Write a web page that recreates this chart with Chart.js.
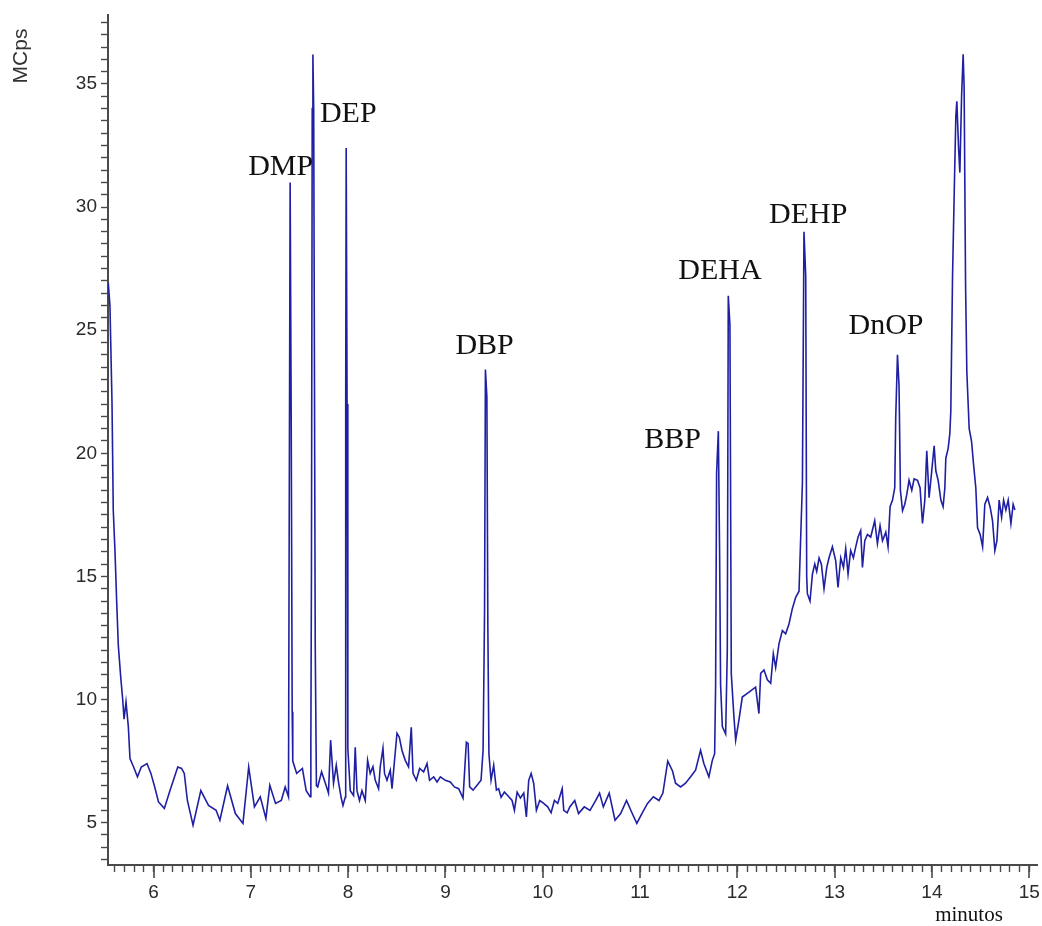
<!DOCTYPE html>
<html>
<head>
<meta charset="utf-8">
<title>Cromatograma</title>
<script src="https://cdn.jsdelivr.net/npm/chart.js@4.4.1/dist/chart.umd.min.js"></script>
<style>
  html, body { margin: 0; padding: 0; background: #fff; }
  #wrap { width: 1042px; height: 926px; }
</style>
</head>
<body>
<div id="wrap"><canvas id="chrom" width="1042" height="926"></canvas></div>
<script>
/* ===== data ===== */

// retention time, minutes
const times = [
  // solvent tail, DMP, DEP
  5.535, 5.552, 5.573, 5.586, 5.604, 5.621, 5.638, 5.663, 5.683, 5.697, 5.717, 5.741, 5.758,
  5.795, 5.835, 5.874, 5.933, 5.973, 6.012, 6.051, 6.111, 6.170, 6.249, 6.288, 6.316, 6.348,
  6.406, 6.486, 6.565, 6.643, 6.682, 6.761, 6.841, 6.919, 6.978, 7.037, 7.097, 7.155, 7.195,
  7.254, 7.313, 7.353, 7.387,
  7.394, 7.404, 7.415, 7.425, 7.431, 7.471, 7.530, 7.569, 7.609,
  7.617, 7.623, 7.631, 7.638, 7.646, 7.662, 7.674, 7.687, 7.727, 7.766, 7.798,
  // 7.8 - 10.3, DBP
  7.820, 7.850, 7.878, 7.901, 7.929, 7.947, 7.970, 7.975, 7.980, 7.989,
  7.997, 8.022, 8.056, 8.073, 8.091, 8.117, 8.142, 8.176, 8.200, 8.227,
  8.255, 8.279, 8.313, 8.330, 8.358, 8.374, 8.399, 8.433, 8.451, 8.474,
  8.502, 8.526, 8.553, 8.587, 8.621, 8.649, 8.667, 8.701, 8.735, 8.776,
  8.811, 8.837, 8.879, 8.914, 8.948, 8.999, 9.050, 9.092, 9.136, 9.181,
  9.215, 9.233, 9.249, 9.284, 9.325, 9.366, 9.387, 9.402, 9.411, 9.426,
  9.436, 9.447, 9.469, 9.496, 9.524, 9.547, 9.572, 9.606, 9.640, 9.685,
  9.709, 9.737, 9.771, 9.805, 9.832, 9.856, 9.881, 9.907, 9.935, 9.969,
  10.010, 10.051, 10.086, 10.120, 10.154, 10.200, 10.216, 10.251, 10.278,
  // 10.3 - 12.7, BBP, DEHA, DEHP
  10.329, 10.368, 10.427, 10.486, 10.545, 10.584, 10.623, 10.683, 10.743, 10.801,
  10.861, 10.920, 10.967, 11.019, 11.077, 11.137, 11.195, 11.235, 11.285, 11.334,
  11.365, 11.417, 11.468, 11.520, 11.571, 11.622, 11.656, 11.708, 11.743, 11.767,
  11.777, 11.787, 11.805, 11.818, 11.828, 11.846, 11.880, 11.897, 11.907, 11.924,
  11.938, 11.965, 11.983, 12.016, 12.051, 12.103, 12.154, 12.188, 12.222, 12.240,
  12.274, 12.309, 12.343, 12.370, 12.394, 12.428, 12.463, 12.497, 12.531, 12.566,
  12.600, 12.634, 12.669, 12.685, 12.703,
  // 12.7 - end, DnOP, column bleed peak
  12.713, 12.720, 12.747, 12.772, 12.796, 12.816, 12.840, 12.864, 12.891, 12.919,
  12.942, 12.977, 13.011, 13.035, 13.063, 13.091, 13.114, 13.138, 13.165, 13.193,
  13.217, 13.241, 13.268, 13.286, 13.310, 13.337, 13.371, 13.412, 13.440, 13.467,
  13.492, 13.526, 13.549, 13.570, 13.595, 13.618, 13.628, 13.646, 13.662, 13.676,
  13.698, 13.721, 13.742, 13.765, 13.793, 13.817, 13.852, 13.878, 13.903, 13.927,
  13.947, 13.971, 13.996, 14.023, 14.040, 14.064, 14.092, 14.115, 14.133, 14.143,
  14.167, 14.184, 14.194, 14.212, 14.228, 14.246, 14.256, 14.274, 14.287, 14.305,
  14.321, 14.331, 14.346, 14.359, 14.383, 14.407, 14.428, 14.451, 14.469, 14.496,
  14.521, 14.544, 14.572, 14.599, 14.623, 14.647, 14.668, 14.691, 14.716, 14.737,
  14.760, 14.784, 14.812, 14.835, 14.853
];

// signal, MCps
const signal = [
  26.9, 26.0, 22.1, 17.7, 16.0, 14.0, 12.2, 10.9, 10.0, 9.2, 9.9, 8.9, 7.6,
  7.26, 6.86, 7.26, 7.4, 7.0, 6.45, 5.84, 5.58, 6.32, 7.26, 7.2, 7.0, 5.9,
  4.9, 6.3, 5.7, 5.5, 5.1, 6.5, 5.37, 4.97, 7.26, 5.64, 6.05, 5.17, 6.52,
  5.78, 5.9, 6.45, 6.05,
  16.5, 31.0, 21.3, 9.5, 7.5, 7.0, 7.2, 6.3, 6.05,
  8.2, 15.2, 34.0, 36.2, 34.0, 12.2, 6.5, 6.45, 7.06, 6.6, 6.2,

  8.35, 6.6, 7.33, 6.65, 6.0, 5.7, 6.03, 22.0, 32.4, 22.0,
  8.0, 6.3, 6.1, 8.06, 6.3, 5.9, 6.3, 5.9, 7.53, 7.0,
  7.27, 6.72, 6.38, 7.27, 8.02, 7.0, 6.72, 7.13, 6.38, 7.4,
  8.63, 8.47, 7.94, 7.53, 7.27, 8.87, 7.0, 6.72, 7.2, 7.06,
  7.4, 6.72, 6.86, 6.65, 6.86, 6.72, 6.65, 6.45, 6.38, 6.0,
  8.27, 8.22, 6.45, 6.32, 6.52, 6.72, 7.94, 13.5, 23.4, 22.3,
  13.0, 7.8, 6.72, 7.33, 6.32, 6.38, 6.03, 6.24, 6.1, 5.9,
  5.5, 6.24, 6.0, 6.2, 5.23, 6.72, 7.0, 6.6, 5.5, 5.9,
  5.78, 5.64, 5.4, 5.9, 5.78, 6.38, 5.5, 5.4, 5.64,

  5.9, 5.37, 5.64, 5.5, 5.9, 6.2, 5.64, 6.2, 5.1, 5.37,
  5.9, 5.37, 4.97, 5.37, 5.78, 6.05, 5.9, 6.2, 7.5, 7.1,
  6.6, 6.45, 6.6, 6.86, 7.13, 7.94, 7.4, 6.86, 7.53, 7.8,
  10.6, 19.2, 20.9, 15.9, 10.6, 8.9, 8.6, 12.0, 26.4, 25.2,
  11.05, 9.3, 8.35, 9.15, 10.1, 10.25, 10.4, 10.5, 9.43, 11.06,
  11.2, 10.8, 10.66, 11.86, 11.3, 12.26, 12.8, 12.67, 13.07, 13.7,
  14.15, 14.4, 18.8, 29.0, 27.2,

  15.0, 14.3, 14.0, 15.1, 15.5, 15.2, 15.75, 15.5, 14.5, 15.36,
  15.75, 16.2, 15.64, 14.55, 15.75, 15.36, 16.13, 15.1, 16.05, 15.75,
  16.2, 16.6, 16.86, 15.36, 16.45, 16.7, 16.6, 17.26, 16.33, 17.06,
  16.45, 16.8, 16.2, 17.83, 18.1, 18.6, 21.45, 24.0, 22.75, 18.5,
  17.67, 17.93, 18.33, 18.9, 18.5, 18.96, 18.9, 18.6, 17.15, 18.1,
  20.1, 18.2, 19.2, 20.3, 19.29, 18.9, 18.1, 17.83, 18.6, 19.8,
  20.2, 20.8, 21.7, 27.2, 30.35, 33.7, 34.3, 32.4, 31.4, 34.5,
  36.2, 34.9, 26.8, 23.3, 21.0, 20.5, 19.55, 18.6, 16.97, 16.7,
  16.2, 17.93, 18.2, 17.8, 17.26, 16.05, 16.45, 18.1, 17.4, 18.1,
  17.7, 18.1, 17.15, 17.93, 17.7
];

// labelled peaks
const peakNames = ['DMP', 'DEP', 'DBP', 'BBP', 'DEHA', 'DEHP', 'DnOP'];
const peakTimes = [7.404, 7.638, 9.411, 11.805, 11.907, 12.685, 13.646];

// axis labels
const xTickLabels = ['6', '7', '8', '9', '10', '11', '12', '13', '14', '15'];
const yTickLabels = ['5', '10', '15', '20', '25', '30', '35'];
const xTitle = 'minutos';
const yTitle = 'MCps';

/* ===== layout / style ===== */
const X_MIN = 5.532, X_MAX = 15.08;
const Y_MIN = 3.28, Y_MAX = 37.8;
const LINE_COLOR = '#1f1fa3';
const AXIS_COLOR = '#4a4a4a';
const SANS = '"Liberation Sans", Arial, sans-serif';
const SERIF = '"Liberation Serif", "Times New Roman", serif';

// label offset from the peak apex: [dx to left edge, dy to baseline]
const labelOffsets = [[-42, -7], [7, 68], [-30, -16], [-74, 17], [-50, -17], [-35, -9], [-49, -21]];

// minor ticks: 0.1 min on x, 0.5 MCps on y
const xTickValues = [];
for (let k = 56; k <= 150; k++) xTickValues.push(k / 10);
const yTickValues = [];
for (let k = 7; k <= 75; k++) yTickValues.push(k / 2);

const isLabelled = (v, labels) => labels.some(l => Math.abs(Number(l) - v) < 1e-6);

function peakApex(t) {
    let best = -Infinity;
    times.forEach((tt, i) => {
        if (Math.abs(tt - t) < 0.015 && signal[i] > best) best = signal[i];
    });
    return best;
}

const annotatePlugin = {
    id: 'annotate',
    afterDraw(chart) {
        const { ctx, chartArea } = chart;
        const x = chart.scales.x, y = chart.scales.y;
        ctx.save();

        // longer ticks at whole minutes
        ctx.strokeStyle = AXIS_COLOR;
        ctx.lineWidth = 1.6;
        xTickLabels.forEach(l => {
            const px = Math.round(x.getPixelForValue(Number(l)));
            ctx.beginPath();
            ctx.moveTo(px, chartArea.bottom);
            ctx.lineTo(px, chartArea.bottom + 13);
            ctx.stroke();
        });

        // peak names
        ctx.fillStyle = '#111';
        ctx.font = '30px ' + SERIF;
        ctx.textAlign = 'left';
        ctx.textBaseline = 'alphabetic';
        peakNames.forEach((name, i) => {
            const px = x.getPixelForValue(peakTimes[i]);
            const py = y.getPixelForValue(peakApex(peakTimes[i]));
            ctx.fillText(name, px + labelOffsets[i][0], py + labelOffsets[i][1]);
        });

        // axis titles
        ctx.font = '21px ' + SERIF;
        ctx.textAlign = 'center';
        ctx.fillText(xTitle, 969, 921);

        ctx.font = '21px ' + SANS;
        ctx.fillStyle = '#333';
        ctx.translate(21, 56);
        ctx.rotate(-Math.PI / 2);
        ctx.textBaseline = 'middle';
        ctx.fillText(yTitle, 0, 0);

        ctx.restore();
    }
};

/* ===== chart ===== */
new Chart(document.getElementById('chrom'), {
    type: 'line',
    data: {
        datasets: [{
            data: times.map((t, i) => ({ x: t, y: signal[i] })),
            borderColor: LINE_COLOR,
            borderWidth: 1.6,
            pointRadius: 0,
            tension: 0,
            fill: false
        }]
    },
    options: {
        responsive: false,
        animation: false,
        devicePixelRatio: 1,
        layout: { padding: { top: 15, right: 5, left: 0, bottom: 0 } },
        plugins: {
            legend: { display: false },
            tooltip: { enabled: false }
        },
        scales: {
            x: {
                type: 'linear',
                min: X_MIN,
                max: X_MAX,
                afterBuildTicks: s => { s.ticks = xTickValues.map(v => ({ value: v })); },
                afterFit: s => { s.height = 61; s.paddingLeft = 0; s.paddingRight = 0; },
                grid: { drawOnChartArea: false, drawTicks: true, tickLength: 7, tickColor: AXIS_COLOR, tickWidth: 1.4 },
                border: { display: true, color: AXIS_COLOR, width: 2 },
                ticks: {
                    autoSkip: false,
                    maxRotation: 0,
                    padding: 9,
                    color: '#2b2b2b',
                    font: { family: SANS, size: 19 },
                    callback: v => isLabelled(v, xTickLabels) ? String(Math.round(v)) : ''
                }
            },
            y: {
                type: 'linear',
                min: Y_MIN,
                max: Y_MAX,
                afterBuildTicks: s => { s.ticks = yTickValues.map(v => ({ value: v })); },
                afterFit: s => { s.width = 108; s.paddingTop = 0; s.paddingBottom = 0; },
                grid: { drawOnChartArea: false, drawTicks: true, tickLength: 7, tickColor: AXIS_COLOR, tickWidth: 1.4 },
                border: { display: true, color: AXIS_COLOR, width: 2 },
                ticks: {
                    autoSkip: false,
                    padding: 4,
                    color: '#2b2b2b',
                    font: { family: SANS, size: 19 },
                    callback: v => isLabelled(v, yTickLabels) ? String(Math.round(v)) : ''
                }
            }
        }
    },
    plugins: [annotatePlugin]
});
</script>
</body>
</html>
